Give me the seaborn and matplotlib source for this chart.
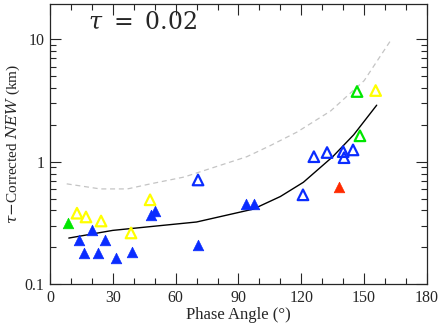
import numpy as np
import pandas as pd
import matplotlib
matplotlib.use("Agg")
import matplotlib.pyplot as plt
import matplotlib.ticker as mticker
import seaborn as sns

# ── Data ─────────────────────────────────────────────────────────────────
blue_filled_x = [13.8, 16.2, 20.0, 22.9, 26.3, 31.5, 39.2, 48.2, 50.1, 70.7, 93.6, 97.4]
blue_filled_y = [0.23, 0.18, 0.277, 0.18, 0.23, 0.163, 0.183, 0.368, 0.396, 0.209, 0.453, 0.453]

blue_open_x = [70.7, 120.8, 126.0, 132.3, 140.0, 140.4, 144.7]
blue_open_y = [0.71, 0.537, 1.10, 1.19, 1.21, 1.08, 1.25]

yellow_open_x = [12.9, 17.2, 24.4, 38.7, 47.8, 155.5]
yellow_open_y = [0.38, 0.354, 0.328, 0.262, 0.489, 3.82]

green_open_x = [146.6, 148.0]
green_open_y = [3.75, 1.63]

green_filled_x = [8.6]
green_filled_y = [0.316]

red_filled_x = [138.0]
red_filled_y = [0.62]

model_x = [9, 30, 52, 70, 97, 110, 121, 135, 145, 156]
model_y = [0.238, 0.275, 0.30, 0.322, 0.41, 0.52, 0.68, 1.1, 1.66, 2.9]

upper_x = [8, 24, 37, 48, 64, 80, 94, 105, 118, 134, 150, 163]
upper_y = [0.66, 0.60, 0.60, 0.66, 0.75, 0.92, 1.1, 1.35, 1.75, 2.6, 4.6, 10.0]

BLUE = "#0a2cff"
YELLOW = "#ffff00"
GREEN = "#00e600"
RED = "#ff2a00"

# ── Figure ───────────────────────────────────────────────────────────────
sns.set_style("ticks")
plt.rcParams["font.family"] = ["Liberation Serif", "DejaVu Serif"]
plt.rcParams["mathtext.fontset"] = "dejavuserif"

fig = plt.figure(figsize=(4.42, 3.24), dpi=100)
ax = fig.add_axes([0.113, 0.123, 0.853, 0.865])

sns.lineplot(x=upper_x, y=upper_y, ax=ax, color="#c4c4c4", lw=0.9,
             linestyle=(0, (4, 3)), sort=False)
sns.lineplot(x=model_x, y=model_y, ax=ax, color="black", lw=1.0, sort=False)

ms = 58
for xs, ys, col in [(blue_filled_x, blue_filled_y, BLUE),
                    (green_filled_x, green_filled_y, GREEN),
                    (red_filled_x, red_filled_y, RED)]:
    sns.scatterplot(x=xs, y=ys, ax=ax, marker="^", s=ms, color=col,
                    edgecolor=col, linewidth=0.5, zorder=3)

for xs, ys, col in [(blue_open_x, blue_open_y, BLUE),
                    (yellow_open_x, yellow_open_y, YELLOW),
                    (green_open_x, green_open_y, GREEN)]:
    sns.scatterplot(x=xs, y=ys, ax=ax, marker="^", s=ms, facecolors="none",
                    edgecolor=col, linewidth=1.6, zorder=3)

ax.set_yscale("log")
ax.set_xlim(0, 180)
ax.set_ylim(0.1, 19.5)
ax.xaxis.set_major_locator(mticker.MultipleLocator(30))
ax.xaxis.set_minor_locator(mticker.MultipleLocator(10))
ax.yaxis.set_major_locator(mticker.LogLocator(base=10))
ax.yaxis.set_minor_locator(mticker.LogLocator(base=10, subs=np.arange(2, 10)))
ax.yaxis.set_major_formatter(mticker.FuncFormatter(lambda v, p: f"{v:g}"))
ax.yaxis.set_minor_formatter(mticker.NullFormatter())

ax.tick_params(which="both", direction="in", top=True, right=True,
               labelsize=11.5, width=0.8)
ax.tick_params(which="major", length=8, pad=4)
ax.tick_params(which="minor", length=4)
for sp in ax.spines.values():
    sp.set_linewidth(0.9)

ax.set_xlabel("Phase Angle (°)", fontsize=12, labelpad=1)
ax.set_ylabel(r"$\tau$$-$Corrected $\it{NEW}$ (km)", fontsize=11, labelpad=2)
ax.text(0.10, 0.935, r"$\tau\ =\ 0.02$", transform=ax.transAxes,
        fontsize=17, va="center", ha="left")

fig.savefig("out.png", dpi=100)
